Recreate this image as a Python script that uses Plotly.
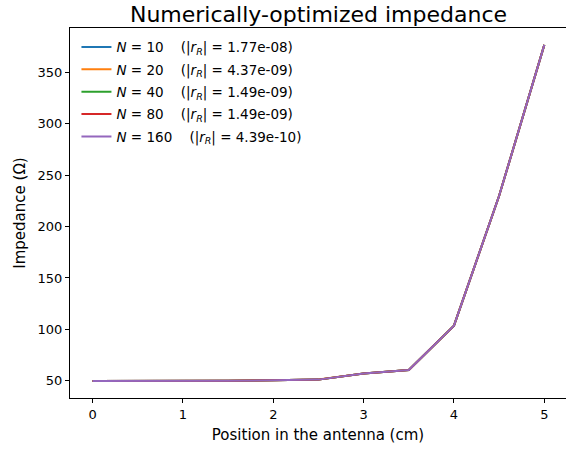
import plotly.graph_objects as go

# Data
position_cm = [0.0, 0.5, 1.0, 1.5, 2.0, 2.5, 3.0, 3.5, 4.0, 4.5, 5.0]
N_values = [10, 20, 40, 80, 160]
residuals = ["1.77e-08", "4.37e-09", "1.49e-09", "1.49e-09", "4.39e-10"]
imp_N10 = [49.6, 49.6, 49.7, 49.8, 50.4, 51.0, 57.0, 60.3, 103.5, 230.0, 377.0]
imp_N20 = [49.6, 49.6, 49.7, 49.9, 50.5, 51.1, 57.0, 60.3, 103.5, 230.0, 377.0]
imp_N40 = [49.6, 49.6, 49.7, 49.8, 50.4, 51.0, 57.0, 60.3, 103.5, 230.0, 377.0]
imp_N80 = [49.6, 49.6, 49.7, 49.8, 50.4, 51.0, 57.0, 60.3, 103.5, 230.0, 377.0]
imp_N160 = [49.6, 49.6, 49.7, 49.8, 50.4, 51.0, 57.0, 60.3, 103.5, 230.0, 377.0]
series = [imp_N10, imp_N20, imp_N40, imp_N80, imp_N160]
colors = ["#1f77b4", "#ff7f0e", "#2ca02c", "#d62728", "#9467bd"]

FONT = "DejaVu Sans"
nb = "\u00a0"

fig = go.Figure()
for n, r, y, c in zip(N_values, residuals, series, colors):
    name = f"<i>N</i>{nb}={nb}{n}{nb*4}(|<i>r</i><sub><i>R</i></sub>|{nb}={nb}{r})"
    fig.add_trace(go.Scatter(x=position_cm, y=y, mode="lines", name=name,
                             line=dict(color=c, width=2), legendgroup=str(n)))

fig.update_layout(
    width=566, height=450,
    margin=dict(l=70, r=0, t=28, b=52),
    paper_bgcolor="white", plot_bgcolor="white",
    font=dict(family=FONT, size=13, color="black"),
    title=dict(text="Numerically-optimized impedance", x=(70 + 567) / 2 / 566, xanchor="center",
               y=1 - 22 / 450, yanchor="bottom", font=dict(size=22, family=FONT, color="black")),
    showlegend=True,
    legend=dict(x=0.013, y=0.99, xanchor="left", yanchor="top", bgcolor="rgba(0,0,0,0)",
                font=dict(size=13.5, family=FONT, color="black"), tracegroupgap=1.8),
)
fig.update_xaxes(range=[-0.25, 5.24], tickvals=[0, 1, 2, 3, 4, 5], ticks="outside", ticklen=4,
                 tickcolor="black", showline=True, linecolor="black", linewidth=1, mirror=True,
                 showgrid=False, zeroline=False,
                 title=dict(text="Position in the antenna (cm)", font=dict(size=15, family=FONT), standoff=8))
fig.update_yaxes(range=[33.1, 393.4], tickvals=[50, 100, 150, 200, 250, 300, 350], ticks="outside", ticklen=4,
                 tickcolor="black", showline=True, linecolor="black", linewidth=1, mirror=False,
                 showgrid=False, zeroline=False,
                 title=dict(text="Impedance (Ω)", font=dict(size=15, family=FONT), standoff=8))

fig.write_html("out.html", config={"displayModeBar": False})
with open("out.html", encoding="utf-8") as f:
    html = f.read()
html = html.replace("<head>", "<head><style>html,body{margin:0;padding:0;overflow:hidden;}</style>", 1)
with open("out.html", "w", encoding="utf-8") as f:
    f.write(html)
